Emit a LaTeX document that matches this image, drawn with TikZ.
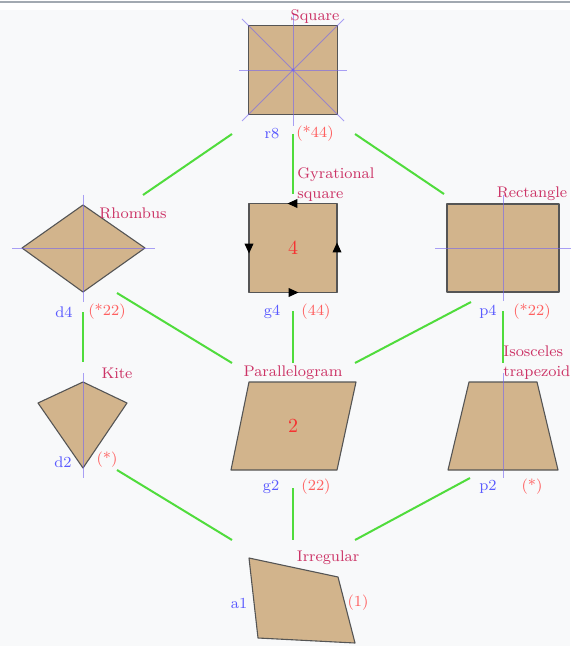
\documentclass[tikz,border=0pt]{standalone}
\usetikzlibrary{calc, arrows.meta, decorations.markings}
\definecolor{shapefill}{RGB}{210,180,140}
\definecolor{shapeedge}{RGB}{85,85,85}
\definecolor{axiscolor}{RGB}{115,100,240}
\definecolor{namecolor}{RGB}{204,51,102}
\definecolor{groupcolor}{RGB}{90,90,255}
\definecolor{orbcolor}{RGB}{255,95,95}
\definecolor{ordercolor}{RGB}{245,50,50}
\definecolor{linkcolor}{RGB}{80,220,60}
\definecolor{pagecolor}{RGB}{248,249,250}
\definecolor{rulecolor}{RGB}{162,169,177}
\newcommand{\labelfont}{\fontsize{7.7}{10}\selectfont}
\tikzset{
    tile/.style={fill=shapefill, draw=shapeedge, line width=0.55pt, line join=round},
    axis/.style={draw=axiscolor, draw opacity=0.6, line width=0.45pt},
    link/.style={draw=linkcolor, line width=1pt},
    shapename/.style={text=namecolor, font=\labelfont, inner sep=0pt},
    groupname/.style={text=groupcolor, font=\labelfont, inner sep=0pt},
    orbname/.style={text=orbcolor, font=\labelfont, inner sep=0pt},
    ordername/.style={text=ordercolor, font=\fontsize{10}{12}\selectfont, inner sep=0pt},
    gyre/.style={postaction={decorate}, decoration={markings,
        mark=between positions 0.14 and 0.9 step 0.25 with {\arrow[black]{Triangle[length=5pt, width=4.4pt]}}}}
}

\begin{document}
\begin{tikzpicture}[x=0.5pt, y=-0.5pt]
    \useasboundingbox (0,0) rectangle (570,646);
    % page
    \fill[white] (0,0) rectangle (570,646);
    \fill[pagecolor] (0,10) rectangle (570,646);
    \draw[rulecolor, line width=1pt] (0,2) -- (570,2);

    % centres of the shapes
    \coordinate (r8) at (293,70);
    \coordinate (d4) at (83,248);
    \coordinate (g4) at (293,248);
    \coordinate (p4) at (503,248);
    \coordinate (d2) at (83,425);
    \coordinate (g2) at (293,425);
    \coordinate (p2) at (503,425);
    \coordinate (a1) at (293,600);

    % links
    \draw[link] ($(r8)+(-61,64)$) -- ($(d4)+(60,-53)$);
    \draw[link] ($(r8)+(0,64)$) -- ($(g4)+(0,-54)$);
    \draw[link] ($(r8)+(62,64)$) -- ($(p4)+(-59,-54)$);
    \draw[link] ($(d4)+(0,64)$) -- ($(d2)+(0,-63)$);
    \draw[link] ($(d4)+(34,45)$) -- ($(g2)+(-61,-62)$);
    \draw[link] ($(g4)+(0,63)$) -- ($(g2)+(0,-62)$);
    \draw[link] ($(p4)+(-32,54)$) -- ($(g2)+(62,-62)$);
    \draw[link] ($(p4)+(0,63)$) -- ($(p2)+(0,-62)$);
    \draw[link] ($(d2)+(34,45)$) -- ($(a1)+(-61,-60)$);
    \draw[link] ($(g2)+(0,63)$) -- ($(a1)+(0,-60)$);
    \draw[link] ($(p2)+(-33,53)$) -- ($(a1)+(62,-60)$);

    % square
    \draw[tile] (248.5,25.5) rectangle (337.5,114.5);
    \draw[axis] (293,13) -- (293,126);
    \draw[axis] (239,70) -- (347,70);
    \draw[axis] (242,19) -- (344,121);
    \draw[axis] (344,19) -- (242,121);
    \fill[axiscolor] (r8) circle (1.6);
    \node[shapename] (r8-name) at (315,17) {Square};
    \node[groupname] (r8-sym) at (272,134) {r8};
    \node[orbname] (r8-orb) at (315,134) {(*44)};

    % rhombus
    \draw[tile] (83,205) -- (145,248) -- (83,292) -- (22,248) -- cycle;
    \draw[axis] (83,195) -- (83,302);
    \draw[axis] (12,248) -- (155,248);
    \node[shapename] (d4-name) at (133,213) {Rhombus};
    \node[groupname] (d4-sym) at (64,312) {d4};
    \node[orbname] (d4-orb) at (107,312) {(*22)};

    % gyrational square
    \draw[tile, gyre] (337,203.5) -- (249,203.5) -- (249,292.5) -- (337,292.5) -- cycle;
    \node[ordername] (g4-order) at (g4) {4};
    \node[shapename, anchor=west, align=left] (g4-name) at (297,185) {Gyrational\\square};
    \node[groupname] (g4-sym) at (272,312) {g4};
    \node[orbname] (g4-orb) at (316,312) {(44)};

    % rectangle
    \draw[tile] (447,204) rectangle (559,292);
    \draw[axis] (503,195) -- (503,301);
    \draw[axis] (435,248) -- (572,248);
    \node[shapename] (p4-name) at (532,194) {Rectangle};
    \node[groupname] (p4-sym) at (488,312) {p4};
    \node[orbname] (p4-orb) at (532,312) {(*22)};

    % kite
    \draw[tile] (83,382) -- (127,403) -- (83,468) -- (38,403) -- cycle;
    \draw[axis] (83,373) -- (83,478);
    \node[shapename] (d2-name) at (117,373) {Kite};
    \node[groupname] (d2-sym) at (63,462) {d2};
    \node[orbname] (d2-orb) at (107,460) {(*)};

    % parallelogram
    \draw[tile] (249,382) -- (356,382) -- (337,470) -- (231,470) -- cycle;
    \node[ordername] (g2-order) at (293,426) {2};
    \node[shapename] (g2-name) at (293,373) {Parallelogram};
    \node[groupname] (g2-sym) at (271,487) {g2};
    \node[orbname] (g2-orb) at (316,487) {(22)};

    % isosceles trapezoid
    \draw[tile] (469,382) -- (537,382) -- (558,470) -- (448,470) -- cycle;
    \draw[axis] (503,373) -- (503,478);
    \node[shapename, anchor=west, align=left] (p2-name) at (503,363) {Isosceles\\trapezoid};
    \node[groupname] (p2-sym) at (488,487) {p2};
    \node[orbname] (p2-orb) at (532,487) {(*)};

    % irregular
    \draw[tile] (249,558) -- (338,577) -- (355,643) -- (258,638) -- cycle;
    \node[shapename] (a1-name) at (328,558) {Irregular};
    \node[groupname] (a1-sym) at (239,603) {a1};
    \node[orbname] (a1-orb) at (358,603) {(1)};
\end{tikzpicture}
\end{document}
